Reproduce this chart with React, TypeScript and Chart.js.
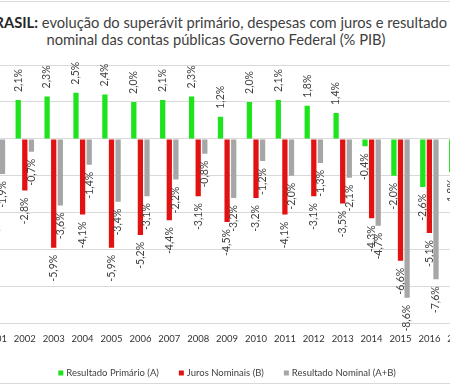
import React, { useEffect, useRef } from 'react';
import { Chart, registerables } from 'chart.js';

Chart.register(...registerables);

const years = ['2001', '2002', '2003', '2004', '2005', '2006', '2007', '2008', '2009', '2010', '2011', '2012', '2013', '2014', '2015', '2016', '2017'];
const primario = [1.8, 2.1, 2.3, 2.5, 2.4, 2.0, 2.1, 2.3, 1.2, 2.0, 2.1, 1.8, 1.4, -0.4, -2.0, -2.6, -1.8];
const juros = [-3.7, -2.8, -5.9, -4.1, -5.9, -5.2, -4.4, -3.1, -4.5, -3.2, -4.1, -3.1, -3.5, -4.3, -6.6, -5.1, -5.2];
const nominal = [-1.9, -0.7, -3.6, -1.4, -3.4, -3.1, -2.2, -0.8, -3.2, -1.2, -2.0, -1.3, -2.1, -4.7, -8.6, -7.6, -7.0];
const seriesNames = ['Resultado Primário (A)', 'Juros Nominais (B)', 'Resultado Nominal (A+B)'];
const seriesColors = ['#1ee41e', '#e31212', '#a6a6a6'];
const yMin = -10;
const yMax = 4;
const yStep = 2;

const FONT = 'Lato';
const CANVAS_W = 534;
const CANVAS_H = 392;
const OFFSET_X = -51;
const LEGEND_Y = 373;

const fmt = (v: number) => v.toFixed(1).replace('.', ',') + '%';

const barLabels = {
  id: 'barLabels',
  afterDatasetsDraw(chart: any) {
    const ctx = chart.ctx;
    ctx.save();
    ctx.font = `10.5px ${FONT}`;
    ctx.fillStyle = '#404040';
    ctx.textBaseline = 'middle';
    chart.data.datasets.forEach((ds: any, i: number) => {
      const meta = chart.getDatasetMeta(i);
      meta.data.forEach((bar: any, j: number) => {
        const v = ds.data[j] as number;
        const pos = v >= 0;
        ctx.save();
        ctx.translate(bar.x, pos ? bar.y - 8 : bar.y + 7);
        ctx.rotate(-Math.PI / 2);
        ctx.textAlign = pos ? 'left' : 'right';
        ctx.fillText(fmt(v), 0, 0);
        ctx.restore();
      });
    });
    ctx.restore();
  },
};

const customLegend = {
  id: 'customLegend',
  afterDraw(chart: any) {
    const ctx = chart.ctx;
    ctx.save();
    ctx.font = `9.5px ${FONT}`;
    const box = 5;
    const gap = 3;
    const spacing = 20;
    const items = chart.data.datasets.map((d: any) => ({ text: d.label, color: d.backgroundColor }));
    const widths = items.map((it: any) => box + gap + ctx.measureText(it.text).width);
    const total = widths.reduce((a: number, b: number) => a + b, 0) + spacing * (items.length - 1);
    let x = (chart.chartArea.left + chart.chartArea.right) / 2 - total / 2;
    items.forEach((it: any, i: number) => {
      ctx.fillStyle = it.color;
      ctx.fillRect(x, LEGEND_Y - box / 2, box, box);
      ctx.fillStyle = '#404040';
      ctx.textBaseline = 'middle';
      ctx.textAlign = 'left';
      ctx.fillText(it.text, x + box + gap, LEGEND_Y);
      x += widths[i] + spacing;
    });
    ctx.restore();
  },
};

export default function App() {
  const ref = useRef<HTMLCanvasElement | null>(null);

  useEffect(() => {
    if (!ref.current) return;
    Chart.defaults.font.family = FONT;
    const data = [primario, juros, nominal];
    const chart = new Chart(ref.current, {
      type: 'bar',
      data: {
        labels: years,
        datasets: data.map((d, i) => ({
          label: seriesNames[i],
          data: d,
          backgroundColor: seriesColors[i],
          borderWidth: 0,
          categoryPercentage: 0.685,
          barPercentage: 0.8,
        })),
      },
      options: {
        responsive: false,
        animation: false,
        devicePixelRatio: 1,
        layout: { padding: { top: 65, right: 10.25, bottom: 37, left: 0 } },
        plugins: {
          legend: { display: false },
          title: { display: false },
          tooltip: { enabled: false },
        },
        scales: {
          x: {
            grid: { display: false, drawTicks: false },
            border: { display: true, color: '#d9d9d9' },
            ticks: {
              color: '#333333',
              font: { size: 9.5, family: FONT },
              padding: 10,
              maxRotation: 0,
              autoSkip: false,
            },
          },
          y: {
            min: yMin,
            max: yMax,
            ticks: {
              stepSize: yStep,
              color: '#333333',
              font: { size: 9.5, family: FONT },
              callback: (v: any) => v + '%',
            },
            grid: { color: '#d9d9d9', drawTicks: false },
            border: { display: false },
            afterFit: (s: any) => {
              s.width = 32.45;
            },
          },
        },
      },
      plugins: [barLabels, customLegend],
    });
    return () => chart.destroy();
  }, []);

  return (
    <div style={{ position: 'fixed', left: 0, top: 0, width: 450, height: 392, overflow: 'hidden', background: '#ffffff' }}>
      <div style={{ position: 'absolute', left: OFFSET_X, top: 0, width: CANVAS_W, height: CANVAS_H }}>
        <div
          style={{
            position: 'absolute',
            left: 0,
            top: 1,
            width: CANVAS_W,
            height: 383,
            boxSizing: 'border-box',
            border: '1px solid #d9d9d9',
          }}
        />
        <div
          style={{
            position: 'absolute',
            left: 0,
            top: 14.3,
            width: CANVAS_W,
            textAlign: 'center',
            fontFamily: FONT,
            fontSize: 14.7,
            lineHeight: '16.5px',
            color: '#404040',
            whiteSpace: 'nowrap',
          }}
        >
          <b style={{ color: '#262626' }}>BRASIL:</b> evolução do superávit primário, despesas com juros e resultado
          <br />
          nominal das contas públicas Governo Federal (% PIB)
        </div>
        <canvas
          ref={ref}
          width={CANVAS_W}
          height={CANVAS_H}
          style={{ position: 'absolute', left: 0, top: 0, width: CANVAS_W, height: CANVAS_H }}
        />
      </div>
    </div>
  );
}
